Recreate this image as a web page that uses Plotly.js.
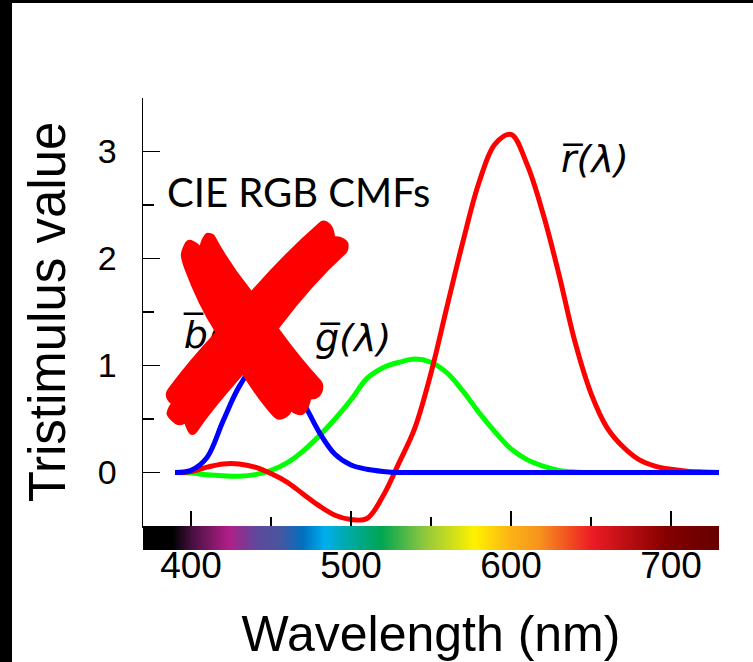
<!DOCTYPE html>
<html>
<head>
<meta charset="utf-8">
<script src="https://cdn.plot.ly/plotly-3.0.1.min.js"></script>
<style>
  html, body { margin: 0; padding: 0; background: #000; width: 753px; height: 662px; overflow: hidden; }
  #chart { position: absolute; left: 12px; top: 3px; width: 741px; height: 659px; background: #fff; }
</style>
</head>
<body>
<div id="chart"></div>
<script>
// Wavelengths (nm)
const wavelength = [390,400,410,420,430,440,450,460,470,480,490,500,510,520,530,540,550,560,570,580,590,600,610,620,630,640,650,660,670,680,690,700,710,720,730];
// Colour matching functions
const rBar = [0,0.01,0.05,0.08,0.08,0.05,-0.01,-0.09,-0.2,-0.31,-0.4,-0.44,-0.43,-0.22,0.09,0.42,0.93,1.55,2.16,2.71,3.07,3.16,2.88,2.42,1.85,1.22,0.74,0.42,0.24,0.12,0.06,0.03,0.012,0.005,0];
const gBar = [0,-0.005,-0.02,-0.03,-0.035,-0.02,0.02,0.09,0.2,0.34,0.5,0.68,0.88,0.98,1.03,1.06,1.03,0.93,0.76,0.56,0.38,0.22,0.12,0.06,0.02,0.005,0,0,0,0,0,0,0,0,0];
const bBar = [0,0.02,0.14,0.48,0.8,1.0,1.03,0.9,0.66,0.38,0.17,0.07,0.03,0.01,0,0,0,0,0,0,0,0,0,0,0,0,0,0,0,0,0,0,0,0,0];

// Spectrum strip stops
const spectrumWl = [370,388,400,423,441,455,470,483,500,519,545,577,600,617,650,696,730];
const spectrumColors = ['#000000','#000000','#45103f','#b01e88','#5c4a9c','#4a55a0','#0070c0','#00aeef','#00a99d','#00a651','#8dc63f','#fff200','#fbb116','#f7941d','#ed1c24','#850000','#650000'];

const xRange = [370, 730];
const yRange = [-0.5, 3.5];
const yTickLabels = ['0','1','2','3'];
const xTickLabels = ['400','500','600','700'];

const wlMin = spectrumWl[0], wlMax = spectrumWl[spectrumWl.length-1];
const colorscale = spectrumWl.map((w,i) => [(w - wlMin)/(wlMax - wlMin), spectrumColors[i]]);

const lineW = 5;
const traces = [
  {x: wavelength, y: gBar, type:'scatter', mode:'lines', line:{color:'#00ff00', width:lineW, shape:'spline', smoothing:1}, xaxis:'x', yaxis:'y', hoverinfo:'skip'},
  {x: wavelength, y: rBar, type:'scatter', mode:'lines', line:{color:'#ff0000', width:lineW, shape:'spline', smoothing:1}, xaxis:'x', yaxis:'y', hoverinfo:'skip'},
  {x: wavelength, y: bBar, type:'scatter', mode:'lines', line:{color:'#0000ff', width:lineW, shape:'spline', smoothing:1}, xaxis:'x', yaxis:'y', hoverinfo:'skip'},
  {x: spectrumWl, y: [0], z: [spectrumWl], type:'heatmap', colorscale: colorscale, zmin: wlMin, zmax: wlMax, zsmooth:'best', showscale:false, xaxis:'x', yaxis:'y2', hoverinfo:'skip'}
];

const labelFont = {family:'DejaVu Sans, sans-serif', size:38, color:'#000'};
const ov = (c) => '<i>' + c + '\u0305(λ)</i>';

const layout = {
  width: 741, height: 659,
  margin: {l:131, r:34, t:95, b:112, pad:0},
  paper_bgcolor:'#fff', plot_bgcolor:'#fff',
  showlegend:false,
  xaxis: {
    domain:[0,1], range:xRange, anchor:'y',
    showline:true, linecolor:'#000', linewidth:1.5,
    ticks:'inside', ticklen:15, tickwidth:1.5, tickcolor:'#000',
    tickmode:'array', tickvals: xTickLabels.map(Number), ticktext: xTickLabels,
    minor:{dtick:50, tick0:400, ticks:'inside', ticklen:9, tickwidth:1.5, tickcolor:'#000', showgrid:false},
    ticklabelstandoff: 6,
    tickfont: {family:'Liberation Sans, Arial, sans-serif', size:37, color:'#000'},
    showgrid:false, zeroline:false,
    title:{text:'Wavelength (nm)', font:{family:'Liberation Sans, Arial, sans-serif', size:50, color:'#000'}, standoff:31}
  },
  yaxis: {
    domain:[24/452, 1], range:yRange, anchor:'x',
    showline:true, linecolor:'#000', linewidth:1.5,
    ticks:'inside', ticklen:17, tickwidth:1.5, tickcolor:'#000',
    tickmode:'array', tickvals: yTickLabels.map(Number), ticktext: yTickLabels,
    minor:{dtick:0.5, tick0:0, ticks:'inside', ticklen:11, tickwidth:1.5, tickcolor:'#000', showgrid:false},
    ticklabelstandoff: 18,
    tickfont: {family:'Liberation Sans, Arial, sans-serif', size:34, color:'#000'},
    showgrid:false, zeroline:false,
    title:{text:'Tristimulus value', font:{family:'Liberation Sans, Arial, sans-serif', size:51, color:'#000'}, standoff:16}
  },
  yaxis2: {
    domain:[0, 24/452], anchor:'x', range:[-0.5,0.5],
    showline:false, ticks:'', showticklabels:false, showgrid:false, zeroline:false, fixedrange:true
  },
  annotations: [
    {x:384, y:2.62, xref:'x', yref:'y', text:'CIE RGB CMFs', showarrow:false, xanchor:'left', yanchor:'middle',
     font:{family:'Lato, Open Sans, sans-serif', size:40, color:'#000'}},
    {x:630, y:2.93, xref:'x', yref:'y', text:ov('r'), showarrow:false, xanchor:'left', yanchor:'middle', font:labelFont},
    {x:393.5, y:1.29, xref:'x', yref:'y', text:ov('b'), showarrow:false, xanchor:'left', yanchor:'middle', font:labelFont},
    {x:476, y:1.26, xref:'x', yref:'y', text:ov('g'), showarrow:false, xanchor:'left', yanchor:'middle', font:labelFont},
    {x:437.5, y:1.29, xref:'x', yref:'y', text:'<b>\u2718</b>', showarrow:false, xanchor:'center', yanchor:'middle',
     font:{family:'DejaVu Sans, sans-serif', size:290, color:'#ff0000'}}
  ]
};

Plotly.newPlot('chart', traces, layout, {staticPlot:true, displayModeBar:false});
</script>
</body>
</html>
